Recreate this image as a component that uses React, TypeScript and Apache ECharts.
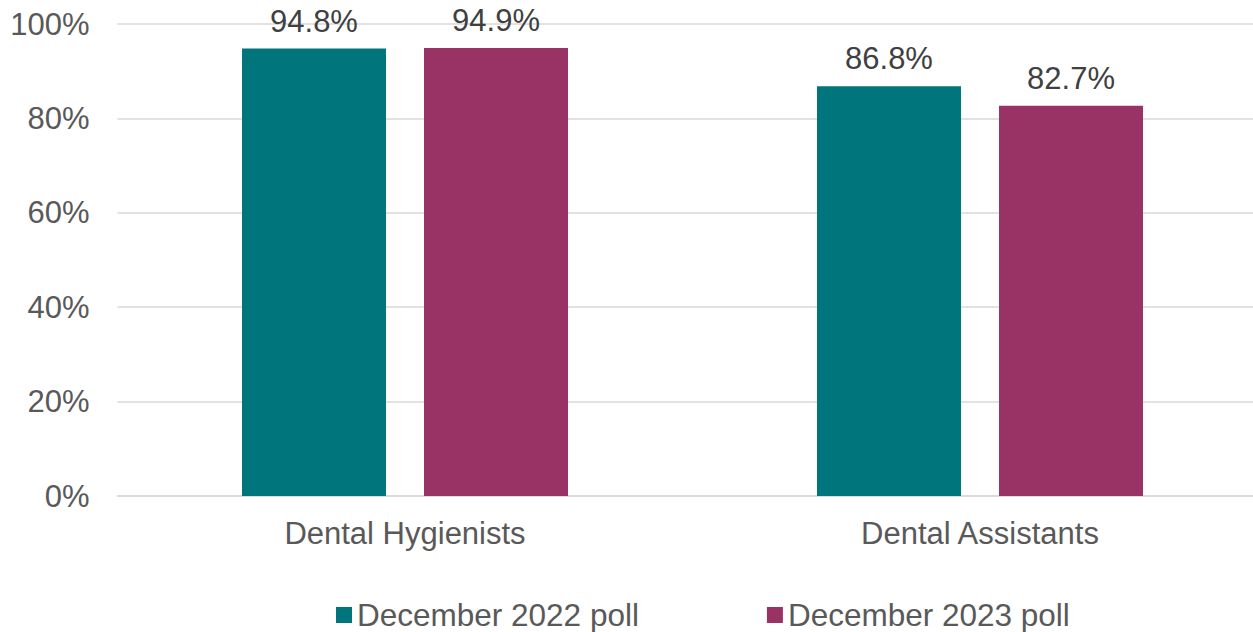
import React, { useEffect, useRef } from "react";
import * as echarts from "echarts";

const categories = ["Dental Hygienists", "Dental Assistants"];
const seriesNames = ["December 2022 poll", "December 2023 poll"];
const poll2022 = [94.8, 86.8];
const poll2023 = [94.9, 82.7];
const yTicks = [0, 20, 40, 60, 80, 100];

const colors = ["#00757B", "#993366"];
const FONT = "'Liberation Sans', Arial, sans-serif";
const FS = 31;

export default function App() {
  const ref = useRef<HTMLDivElement>(null);
  useEffect(() => {
    if (!ref.current) return;
    const chart = echarts.init(ref.current, undefined, { renderer: "svg" });
    const mkSeries = (name: string, data: number[], color: string) => ({
      name,
      type: "bar",
      data,
      barWidth: 144,
      barGap: "26.4%",
      itemStyle: { color },
      label: {
        show: true,
        position: "top",
        distance: 12,
        formatter: (p: any) => p.value.toFixed(1) + "%",
        color: "#404040",
        fontSize: FS,
        fontFamily: FONT,
      },
    });
    chart.setOption({
      animation: false,
      textStyle: { fontFamily: FONT },
      grid: { left: 117.5, top: 24, right: 2.5, height: 472, containLabel: false },
      legend: {
        data: seriesNames,
        left: 331,
        top: 593,
        itemWidth: 16,
        itemHeight: 16,
        itemGap: 128,
        icon: "rect",
        textStyle: { color: "#595959", fontSize: 31.5, lineHeight: 34, fontFamily: FONT },
      },
      xAxis: {
        type: "category",
        data: categories,
        axisLine: { lineStyle: { color: "#d9d9d9", width: 1.5 } },
        axisTick: { show: false },
        axisLabel: { color: "#595959", fontSize: FS, fontFamily: FONT, margin: 22 },
      },
      yAxis: {
        type: "value",
        min: yTicks[0],
        max: yTicks[yTicks.length - 1],
        interval: 20,
        axisLine: { show: false },
        axisTick: { show: false },
        splitLine: { lineStyle: { color: "#d9d9d9", width: 1.5 } },
        axisLabel: {
          color: "#595959",
          fontSize: FS,
          fontFamily: FONT,
          margin: 28,
          formatter: (v: number) => v + "%",
        },
      },
      series: [
        mkSeries(seriesNames[0], poll2022, colors[0]),
        mkSeries(seriesNames[1], poll2023, colors[1]),
      ],
    });
    return () => chart.dispose();
  }, []);
  return (
    <div
      style={{ position: "fixed", left: 0, top: 0, width: 1253, height: 632, overflow: "hidden", background: "#fff" }}
    >
      <div ref={ref} style={{ width: 1270, height: 632 }} />
    </div>
  );
}
